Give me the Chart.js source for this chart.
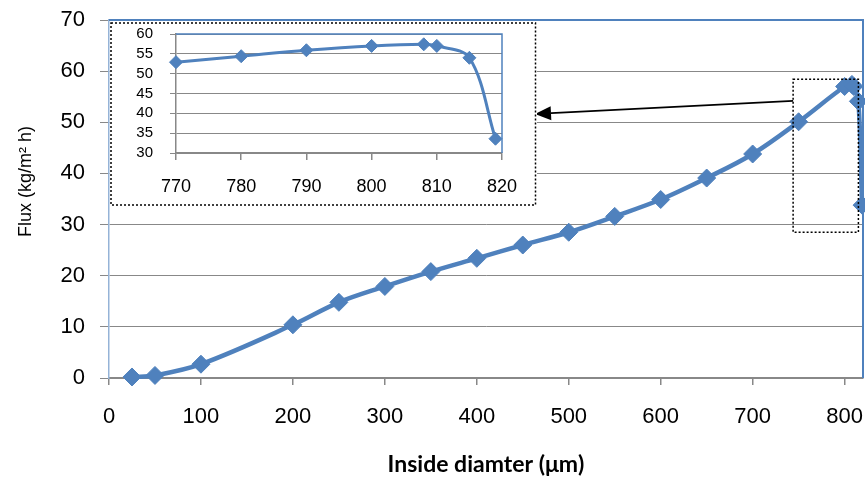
<!DOCTYPE html>
<html>
<head>
<meta charset="utf-8">
<script src="https://cdn.jsdelivr.net/npm/chart.js@4.4.1/dist/chart.umd.min.js"></script>
<style>
  html, body { margin: 0; padding: 0; background: #fff; }
  #wrap { position: relative; width: 865px; height: 479px; }
  #mainChart { position: absolute; left: 0; top: 0; }
  #insetChart { position: absolute; left: 110px; top: 22px; }
</style>
</head>
<body>
<div id="wrap">
  <canvas id="mainChart" width="865" height="479"></canvas>
  <canvas id="insetChart" width="427" height="184"></canvas>
</div>
<script>
// main curve: flux vs inside diameter
const diameters = [25, 50, 100, 200, 250, 300, 350, 400, 450, 500, 550, 600, 650, 700, 750, 800, 808, 810, 815, 819];
const fluxValues = [0.2, 0.5, 2.7, 10.4, 14.8, 17.9, 20.8, 23.4, 26, 28.5, 31.6, 34.9, 39.1, 43.8, 50.1, 57, 57.4, 57, 54.1, 33.8];
const diameterTicks = [0, 100, 200, 300, 400, 500, 600, 700, 800];

// zoomed inset near the top end
const insetDiameters = [770, 780, 790, 800, 808, 810, 815, 819];
const insetFlux = [52.9, 54.4, 55.9, 57, 57.4, 57, 54, 33.6];

// region of the main chart that the inset magnifies (data units)
const zoomRegion = { xMin: 744, xMax: 815, yMin: 28.5, yMax: 58.4 };
const arrowFromFlux = 54.2;

const FONT = "'Liberation Sans', Arial, sans-serif";
const BLUE = '#4F81BD';
const GRID = '#888888';
const INSET = { left: 110, top: 22, width: 427, height: 184 };

Chart.defaults.font.family = FONT;
Chart.defaults.color = '#000';

function toPoints(xs, ys) {
  return xs.map((x, i) => ({ x: x, y: ys[i] }));
}

// label overflow should not push the plot area around
function noScalePadding(s) {
  s.paddingTop = 0;
  s.paddingBottom = 0;
  s.paddingLeft = 0;
  s.paddingRight = 0;
}

function dottedRect(ctx, x0, y0, x1, y1) {
  ctx.save();
  ctx.strokeStyle = '#000';
  ctx.lineWidth = 1.5;
  ctx.setLineDash([2, 2]);
  ctx.strokeRect(x0, y0, x1 - x0, y1 - y0);
  ctx.restore();
}

function plotOutline(ctx, a, width) {
  ctx.save();
  ctx.strokeStyle = BLUE;
  ctx.lineWidth = width;
  ctx.beginPath();
  ctx.moveTo(a.left, a.top);
  ctx.lineTo(a.right, a.top);
  ctx.lineTo(a.right, a.bottom);
  ctx.stroke();
  ctx.restore();
}

const mainDecor = {
  id: 'mainDecor',
  afterDatasetsDraw(chart) {
    plotOutline(chart.ctx, chart.chartArea, 2);
  },
  afterDraw(chart) {
    const { ctx, scales: { x, y } } = chart;
    const bx0 = x.getPixelForValue(zoomRegion.xMin);
    const bx1 = x.getPixelForValue(zoomRegion.xMax);
    const by0 = y.getPixelForValue(zoomRegion.yMax);
    const by1 = y.getPixelForValue(zoomRegion.yMin);
    dottedRect(ctx, bx0, by0, bx1, by1);

    // arrow from the zoom box to the inset
    const fromX = bx0, fromY = y.getPixelForValue(arrowFromFlux);
    const toX = INSET.left + INSET.width - 2, toY = INSET.top + INSET.height / 2;
    const ang = Math.atan2(toY - fromY, toX - fromX);
    const headLen = 16, headHalf = 7;
    const baseX = toX - headLen * Math.cos(ang), baseY = toY - headLen * Math.sin(ang);
    ctx.save();
    ctx.strokeStyle = '#000';
    ctx.fillStyle = '#000';
    ctx.lineWidth = 1.7;
    ctx.beginPath();
    ctx.moveTo(fromX, fromY);
    ctx.lineTo(baseX, baseY);
    ctx.stroke();
    ctx.beginPath();
    ctx.moveTo(toX, toY);
    ctx.lineTo(baseX + headHalf * Math.sin(ang), baseY - headHalf * Math.cos(ang));
    ctx.lineTo(baseX - headHalf * Math.sin(ang), baseY + headHalf * Math.cos(ang));
    ctx.closePath();
    ctx.fill();
    ctx.restore();
  }
};

const insetDecor = {
  id: 'insetDecor',
  beforeDraw(chart) {
    const { ctx, width, height } = chart;
    ctx.save();
    ctx.fillStyle = '#fff';
    ctx.fillRect(0, 0, width, height);
    ctx.restore();
    dottedRect(ctx, 1, 1, width - 1.5, height - 1);
  },
  afterDatasetsDraw(chart) {
    plotOutline(chart.ctx, chart.chartArea, 1.5);
  }
};

new Chart(document.getElementById('mainChart'), {
  type: 'line',
  data: {
    datasets: [{
      data: toPoints(diameters, fluxValues),
      borderColor: BLUE,
      backgroundColor: BLUE,
      borderWidth: 4.5,
      pointStyle: 'rectRot',
      pointRadius: 9,
      pointBackgroundColor: BLUE,
      pointBorderColor: BLUE,
      pointBorderWidth: 1,
      tension: 0.35,
      clip: false
    }]
  },
  options: {
    responsive: false,
    animation: false,
    layout: { autoPadding: false, padding: { top: 20, right: 2, left: 0, bottom: 0 } },
    plugins: { legend: { display: false }, tooltip: { enabled: false } },
    scales: {
      x: {
        type: 'linear',
        min: 0,
        max: 820,
        afterBuildTicks: s => { s.ticks = diameterTicks.map(v => ({ value: v })); },
        afterFit: s => { s.height = 101; noScalePadding(s); },
        ticks: { font: { size: 22 }, padding: 19, maxRotation: 0, autoSkip: false },
        grid: { drawOnChartArea: false, drawTicks: true, tickLength: 7, color: GRID, lineWidth: 1.5 },
        border: { color: GRID, width: 2 },
        title: {
          display: true,
          text: 'Inside diamter (μm)',
          font: { family: "Lato, 'Liberation Sans', sans-serif", size: 23, weight: 'bold' },
          padding: { top: 0, bottom: 1 }
        }
      },
      y: {
        min: 0,
        max: 70,
        afterFit: s => { s.width = 109; noScalePadding(s); },
        ticks: { stepSize: 10, font: { size: 22 }, padding: 15, autoSkip: false },
        grid: { color: GRID, lineWidth: 1, tickLength: 9 },
        border: { color: '#95B3D7', width: 1.5 },
        title: { display: true, text: '       Flux (kg/m² h)', font: { size: 18 }, padding: { top: 15 } }
      }
    }
  },
  plugins: [mainDecor]
});

new Chart(document.getElementById('insetChart'), {
  type: 'line',
  data: {
    datasets: [{
      data: toPoints(insetDiameters, insetFlux),
      borderColor: BLUE,
      backgroundColor: BLUE,
      borderWidth: 3,
      pointStyle: 'rectRot',
      pointRadius: 6.5,
      pointBackgroundColor: BLUE,
      pointBorderColor: BLUE,
      pointBorderWidth: 1,
      tension: 0.35,
      clip: false
    }]
  },
  options: {
    responsive: false,
    animation: false,
    layout: { autoPadding: false, padding: { top: 12, right: 35, left: 0, bottom: 0 } },
    plugins: { legend: { display: false }, tooltip: { enabled: false } },
    scales: {
      x: {
        type: 'linear',
        min: 770,
        max: 820,
        afterFit: s => { s.height = 53; noScalePadding(s); },
        ticks: { stepSize: 10, font: { size: 18 }, padding: 16, maxRotation: 0, autoSkip: false },
        grid: { drawOnChartArea: false, drawTicks: true, tickLength: 7, color: GRID, lineWidth: 1.5 },
        border: { color: GRID, width: 1.5 }
      },
      y: {
        min: 30,
        max: 60,
        afterFit: s => { s.width = 66; noScalePadding(s); },
        ticks: { stepSize: 5, font: { size: 15 }, padding: 17, autoSkip: false },
        grid: { color: GRID, lineWidth: 1, tickLength: 6 },
        border: { color: GRID, width: 1.5 }
      }
    }
  },
  plugins: [insetDecor]
});
</script>
</body>
</html>
